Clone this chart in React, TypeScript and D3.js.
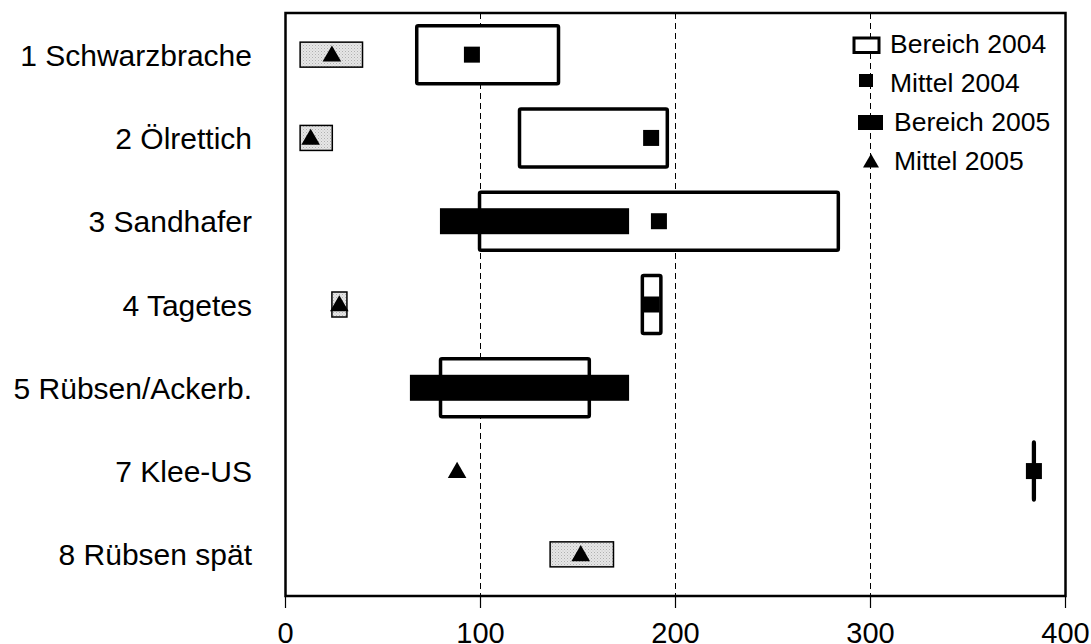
import React from "react";
import * as d3 from "d3";

const categories = [
  "1 Schwarzbrache",
  "2 Ölrettich",
  "3 Sandhafer",
  "4 Tagetes",
  "5 Rübsen/Ackerb.",
  "7 Klee-US",
  "8 Rübsen spät",
];

// Bereich 2004 (open boxes)
const bereich2004: ([number, number] | null)[] = [
  [67.3, 140],
  [120, 195.8],
  [99.5, 283.5],
  [183, 192.5],
  [79.5, 155.8],
  [383.6, 384],
  null,
];
// Mittel 2004 (squares)
const mittel2004: (number | null)[] = [95.6, 187.5, 191.5, 187.7, null, 383.8, null];
// Bereich 2005 (solid bars)
const bereich2005: ([number, number] | null)[] = [
  null,
  null,
  [79.2, 176.2],
  null,
  [63.8, 176.2],
  null,
  null,
];
// Bereich 2005, shaded boxes
const bereich2005Shaded: ([number, number] | null)[] = [
  [7.5, 39.5],
  [7.5, 24],
  null,
  [23.8, 31.5],
  null,
  null,
  [135.7, 168.2],
];
// Mittel 2005 (triangles)
const mittel2005: (number | null)[] = [23.8, 12.9, null, 27.6, null, 88, 151.4];

const xTicks = [0, 100, 200, 300, 400];
const gridTicks = [100, 200, 300];

const legendItems = ["Bereich 2004", "Mittel 2004", "Bereich 2005", "Mittel 2005"];

export default function App() {
  const W = 1091;
  const H = 644;
  const left = 285.5;
  const right = 1065.5;
  const top = 13;
  const bottom = 596;

  const x = d3.scaleLinear().domain([0, 400]).range([left, right]);
  const y = d3.scaleBand<string>().domain(categories).range([top, bottom]);
  const cy = (i: number) => (y(categories[i]) as number) + y.bandwidth() / 2;

  const font = "'Liberation Sans', Arial, Helvetica, sans-serif";
  const tri = d3.symbol().type(d3.symbolTriangle).size(150);

  return (
    <svg
      width={W}
      height={H}
      style={{ position: "absolute", left: 0, top: 0, background: "#fff" }}
      fontFamily={font}
    >
      <defs>
        <pattern id="shade" width="3" height="3" patternUnits="userSpaceOnUse">
          <rect width="3" height="3" fill="#e6e6e6" />
          <rect x="0" y="0" width="1" height="1" fill="#b0b0b0" />
          <rect x="1.5" y="1.5" width="1" height="1" fill="#c4c4c4" />
        </pattern>
      </defs>
      <rect x={0} y={0} width={W} height={H} fill="#fff" />

      {/* gridlines */}
      {gridTicks.map((t) => (
        <line
          key={"g" + t}
          x1={x(t)}
          x2={x(t)}
          y1={top}
          y2={bottom}
          stroke="#000"
          strokeWidth={1}
          strokeDasharray="6,4"
        />
      ))}

      {/* Bereich 2004 */}
      {bereich2004.map((r, i) =>
        r ? (
          <rect
            key={"b4" + i}
            x={x(r[0])}
            y={cy(i) - 29}
            width={Math.max(0, x(r[1]) - x(r[0]))}
            height={58}
            fill="#fff"
            stroke="#000"
            strokeWidth={3.5}
            rx={1.5}
          />
        ) : null
      )}

      {/* Bereich 2005 solid */}
      {bereich2005.map((r, i) =>
        r ? (
          <rect
            key={"b5" + i}
            x={x(r[0])}
            y={cy(i) - 13}
            width={x(r[1]) - x(r[0])}
            height={26}
            fill="#000"
          />
        ) : null
      )}

      {/* Bereich 2005 shaded */}
      {bereich2005Shaded.map((r, i) =>
        r ? (
          <rect
            key={"bs" + i}
            x={x(r[0])}
            y={cy(i) - 12.5}
            width={x(r[1]) - x(r[0])}
            height={25}
            fill="url(#shade)"
            stroke="#000"
            strokeWidth={1.5}
          />
        ) : null
      )}

      {/* Mittel 2004 */}
      {mittel2004.map((v, i) =>
        v !== null ? (
          <rect key={"m4" + i} x={x(v) - 8} y={cy(i) - 8} width={16} height={16} fill="#000" />
        ) : null
      )}

      {/* Mittel 2005 */}
      {mittel2005.map((v, i) =>
        v !== null ? (
          <path
            key={"m5" + i}
            d={tri() as string}
            transform={`translate(${x(v)},${cy(i) + 1.5})`}
            fill="#000"
          />
        ) : null
      )}

      {/* frame */}
      <rect
        x={left}
        y={top}
        width={right - left}
        height={bottom - top}
        fill="none"
        stroke="#000"
        strokeWidth={2.5}
      />

      {/* x ticks */}
      {xTicks.map((t) => (
        <g key={"t" + t}>
          <line x1={x(t)} x2={x(t)} y1={bottom} y2={bottom + 12} stroke="#000" strokeWidth={1.2} />
          <text x={x(t)} y={643} textAnchor="middle" fontSize={29} fill="#000">
            {t}
          </text>
        </g>
      ))}

      {/* category labels */}
      {categories.map((c, i) => (
        <text key={"c" + i} x={252} y={cy(i) + 11} textAnchor="end" fontSize={30} fill="#000">
          {c}
        </text>
      ))}

      {/* legend */}
      <g>
        <rect x={854} y={38} width={25} height={14.5} fill="#fff" stroke="#000" strokeWidth={3} />
        <rect x={859} y={74} width={14} height={13} fill="#000" />
        <rect x={858} y={115} width={25} height={15} fill="#000" />
        <path d={d3.symbol().type(d3.symbolTriangle).size(110)() as string} transform="translate(871,163)" fill="#000" />
        {legendItems.map((l, i) => (
          <text key={"l" + i} x={i < 2 ? 890 : 894} y={53 + 39 * i} fontSize={26.5} fill="#000">
            {l}
          </text>
        ))}
      </g>
    </svg>
  );
}
